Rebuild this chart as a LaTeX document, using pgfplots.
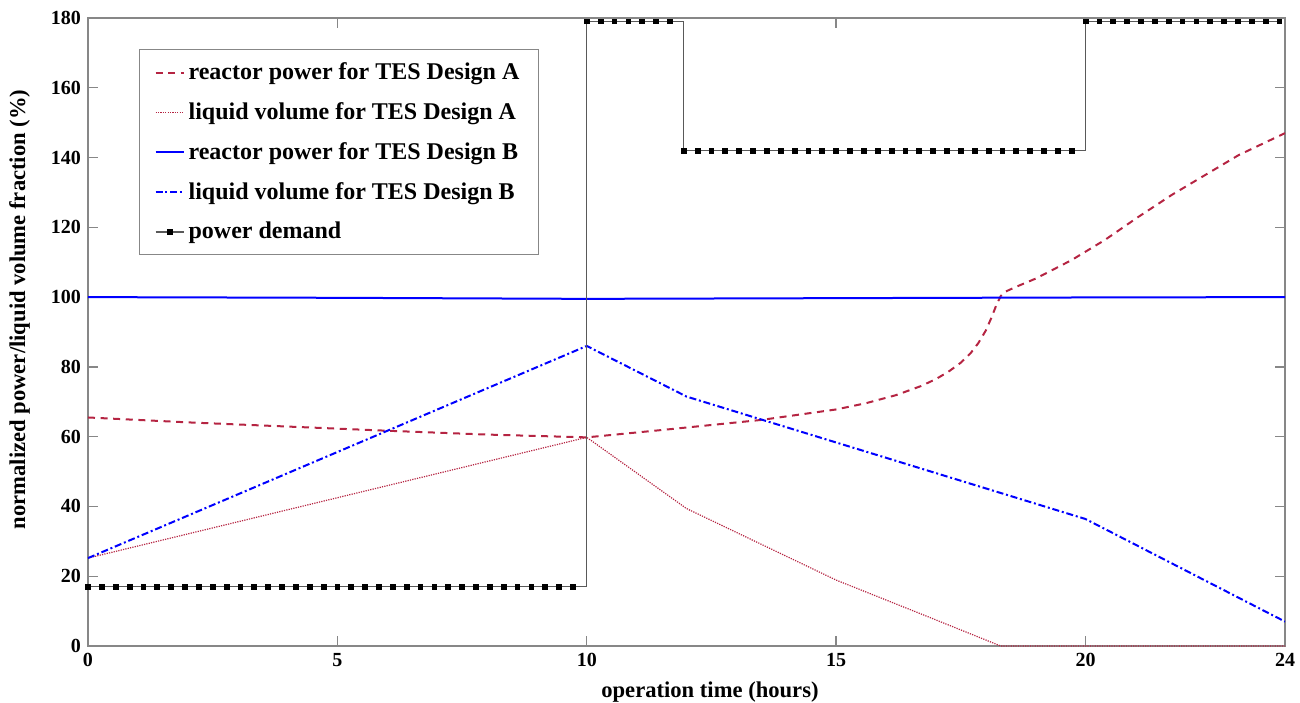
\documentclass[border=0pt]{standalone}
\usepackage{fontspec}
\setmainfont{Liberation Serif}
\usepackage{pgfplots}
\pgfplotsset{compat=1.18}
\definecolor{cred}{RGB}{181,36,66}
\definecolor{axgray}{RGB}{135,135,135}
\begin{document}
\begin{tikzpicture}
\begin{axis}[
 at={(0,0)}, anchor=south west,
 scale only axis, width=598.5pt, height=314pt,
 xmin=0, xmax=24, ymin=0, ymax=180,
 xtick={0,5,10,15,20,24}, ytick={0,20,...,180},
 tick align=inside, major tick length=5pt,
 axis line style={axgray, line width=0.7pt},
 every tick/.style={axgray, line width=0.7pt},
 /pgf/number format/assume math mode=true,
 tick label style={font=\fontsize{10}{12}\selectfont\bfseries},
 xlabel={operation time (hours)},
 ylabel={normalized power/liquid volume fraction (\%)},
 label style={font=\fontsize{11.3}{13}\selectfont\bfseries},
 xlabel style={at={(axis description cs:0.5196,-0.0812)}, anchor=base},
 ylabel style={at={(axis description cs:-0.0526,0.536)}, anchor=base},
 legend style={at={(0.0426,0.9506)}, anchor=north west, draw=axgray, line width=0.6pt,
   font=\fontsize{12}{14}\selectfont\bfseries, row sep=6pt, inner xsep=7.5pt, inner ysep=4.5pt,
   cells={anchor=west}},
 legend image code/.code={\draw[#1] (0pt,0pt) -- (14pt,0pt);},
]
% reactor power A
\addplot[cred, line width=1pt, dash pattern=on 3.5pt off 2.8pt] coordinates {
(0,65.5) (2,64.1) (4,62.9) (6,61.7) (8,60.6) (10,59.8) (11.5,61.9) (13.5,64.8)
(15,67.8) (15.6,69.6) (16.2,71.9) (16.7,74.5) (17.0,76.5) (17.25,78.6) (17.5,81.2) (17.7,84.0)
(17.85,86.8) (18.0,90.4) (18.12,94.3) (18.22,98.0) (18.3,100.3) (18.4,101.6) (18.6,102.9)
(19.0,105.3) (19.72,110.6) (20.39,116.4) (21.06,123) (21.73,129.3) (22.4,135)
(23.07,140.7) (24,147)};
\addlegendentry{reactor power for TES Design A}
% liquid volume A
\addplot[cred, line width=0.6pt, dash pattern=on 0.6pt off 0.6pt] coordinates {
(0,25.2) (10,59.8) (12,39.4) (15,18.9) (16.84,8.4) (18.3,0) (24,0)};
\addlegendentry{liquid volume for TES Design A}
% reactor power B
\addplot[blue, line width=1pt] coordinates {
(0,100) (5,99.8) (10,99.5) (15,99.7) (20,99.9) (24,100)};
\addlegendentry{reactor power for TES Design B}
% liquid volume B
\addplot[blue, line width=1pt, dash pattern=on 3.5pt off 1.4pt on 1pt off 1.4pt] coordinates {
(0,25.2) (10,86) (12,71.5) (20,36.4) (24,7)};
\addlegendentry{liquid volume for TES Design B}
% power demand line
\addplot[black!65, line width=0.7pt, forget plot] coordinates {
(0,17) (10,17) (10,179) (11.944,179) (11.944,142) (20,142) (20,179) (23.889,179)};
% power demand marks
\addplot[only marks, mark=square*, mark size=1.2pt, black,
  legend image code/.code={\draw[black!65,line width=0.7pt] (0pt,0pt) -- (14pt,0pt);
  \fill[black] (5.8pt,-1.2pt) rectangle (8.2pt,1.2pt);}]
 table[x expr=\thisrow{t}/3600, y=p] {
t p
0 17
1000 17
2000 17
3000 17
4000 17
5000 17
6000 17
7000 17
8000 17
9000 17
10000 17
11000 17
12000 17
13000 17
14000 17
15000 17
16000 17
17000 17
18000 17
19000 17
20000 17
21000 17
22000 17
23000 17
24000 17
25000 17
26000 17
27000 17
28000 17
29000 17
30000 17
31000 17
32000 17
33000 17
34000 17
35000 17
36000 179
37000 179
38000 179
39000 179
40000 179
41000 179
42000 179
43000 142
44000 142
45000 142
46000 142
47000 142
48000 142
49000 142
50000 142
51000 142
52000 142
53000 142
54000 142
55000 142
56000 142
57000 142
58000 142
59000 142
60000 142
61000 142
62000 142
63000 142
64000 142
65000 142
66000 142
67000 142
68000 142
69000 142
70000 142
71000 142
72000 179
73000 179
74000 179
75000 179
76000 179
77000 179
78000 179
79000 179
80000 179
81000 179
82000 179
83000 179
84000 179
85000 179
86000 179
};
\addlegendentry{power demand}
\end{axis}
\pgfresetboundingbox
\path[use as bounding box] (-44pt,-28pt) rectangle (606pt,323pt);
\end{tikzpicture}
\end{document}
